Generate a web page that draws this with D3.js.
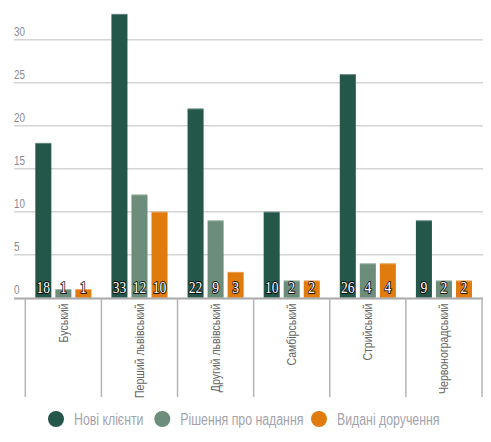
<!DOCTYPE html>
<html>
<head>
<meta charset="utf-8">
<script src="https://cdn.jsdelivr.net/npm/d3@7"></script>
<style>
  body { margin: 0; background: #fff; }
  text { font-family: "Liberation Sans", sans-serif; }
</style>
</head>
<body>
<div id="chart"></div>
<script>
var svgWidth = 491;
var svgHeight = 442;

var categories = ["Буський", "Перший львівський", "Другий львівський", "Самбірський", "Стрийський", "Червоноградський"];
var seriesNames = ["Нові клієнти", "Рішення про надання", "Видані доручення"];
var newClients = [18, 33, 22, 10, 26, 9];
var decisions = [1, 12, 9, 2, 4, 2];
var issued = [1, 10, 3, 2, 4, 2];
var yTicks = [0, 5, 10, 15, 20, 25, 30];
var colors = ["#24564a", "#6b8d79", "#e07c0d"];

var series = [newClients, decisions, issued];
var data = categories.map(function(c, i) {
  return { name: c, values: series.map(function(s, j) { return { key: j, value: s[i] }; }) };
});

// the original uses a condensed face, squeeze Liberation Sans to match
var narrow = 0.76;

var svg = d3.select("#chart")
  .append("svg")
  .attr("width", svgWidth)
  .attr("height", svgHeight);

// scales
var x0 = d3.scaleBand()
  .domain(categories)
  .range([25.3, 482])
  .padding(0);

var x1 = d3.scaleBand()
  .domain([0, 1, 2])
  .range([0, x0.bandwidth()])
  .paddingInner(0.2)
  .paddingOuter(0.5);

var y = d3.scaleLinear()
  .domain([0, 30])
  .range([297.7, 39.7]);

// grid lines
svg.append("g")
  .selectAll("line")
  .data(yTicks.slice(1))
  .enter().append("line")
  .attr("x1", 14)
  .attr("x2", 483)
  .attr("y1", d => y(d))
  .attr("y2", d => y(d))
  .attr("stroke", "#d4d4d4")
  .attr("stroke-width", 1.5);

// y labels above the lines
svg.append("g")
  .selectAll("text")
  .data(yTicks)
  .enter().append("text")
  .attr("transform", d => `translate(14,${y(d) - 4}) scale(${narrow},1)`)
  .attr("font-size", 13)
  .attr("fill", "#8a8a96")
  .text(d => d);

// bars
var groups = svg.append("g")
  .selectAll("g")
  .data(data)
  .enter().append("g")
  .attr("transform", d => `translate(${x0(d.name)},0)`);

groups.selectAll("rect")
  .data(d => d.values)
  .enter().append("rect")
  .attr("x", d => x1(d.key))
  .attr("y", d => y(d.value))
  .attr("width", x1.bandwidth())
  .attr("height", d => y(0) - y(d.value))
  .attr("fill", d => colors[d.key]);

// top highlight on bars
groups.selectAll("line.top")
  .data(d => d.values)
  .enter().append("line")
  .attr("class", "top")
  .attr("x1", d => x1(d.key))
  .attr("x2", d => x1(d.key) + x1.bandwidth())
  .attr("y1", d => y(d.value) + 0.5)
  .attr("y2", d => y(d.value) + 0.5)
  .attr("stroke", "#fff")
  .attr("stroke-opacity", 0.3);

// value labels
groups.selectAll("text")
  .data(d => d.values)
  .enter().append("text")
  .attr("transform", d => `translate(${x1(d.key) + x1.bandwidth() / 2},293) scale(0.85,1)`)
  .attr("text-anchor", "middle")
  .style("font-family", "'Liberation Serif', serif")
  .attr("font-size", 16)
  .attr("fill", "#fff")
  .attr("stroke", "#000")
  .attr("stroke-width", 2)
  .attr("stroke-opacity", 0.85)
  .attr("stroke-linejoin", "round")
  .attr("paint-order", "stroke")
  .text(d => d.value);

// x axis line
svg.append("line")
  .attr("x1", 14)
  .attr("x2", 483)
  .attr("y1", 298.5)
  .attr("y2", 298.5)
  .attr("stroke", "#a8a8a8")
  .attr("stroke-width", 2);

// category separators
var seps = categories.map(c => x0(c)).concat([x0.range()[1]]);
svg.append("g")
  .selectAll("line")
  .data(seps)
  .enter().append("line")
  .attr("x1", d => d)
  .attr("x2", d => d)
  .attr("y1", 298)
  .attr("y2", 397)
  .attr("stroke", "#b4b4b4")
  .attr("stroke-width", 1.5);

// category labels
svg.append("g")
  .selectAll("text")
  .data(categories)
  .enter().append("text")
  .attr("transform", d => `translate(${x0(d) + x0.bandwidth() / 2 + 4.5},303.5) rotate(-90) scale(0.81,1)`)
  .attr("text-anchor", "end")
  .attr("font-size", 13)
  .attr("fill", "#666")
  .text(d => d);

// legend
var legendX = [56, 162.3, 319];
var legend = svg.append("g")
  .selectAll("g")
  .data(seriesNames)
  .enter().append("g")
  .attr("transform", (d, i) => `translate(${legendX[i]},419)`);

legend.append("circle")
  .attr("r", 8)
  .attr("fill", (d, i) => colors[i]);

legend.append("text")
  .attr("transform", `translate(18,5.5) scale(0.77,1)`)
  .attr("font-size", 16)
  .attr("fill", "#a3a3ad")
  .text(d => d);
</script>
</body>
</html>
